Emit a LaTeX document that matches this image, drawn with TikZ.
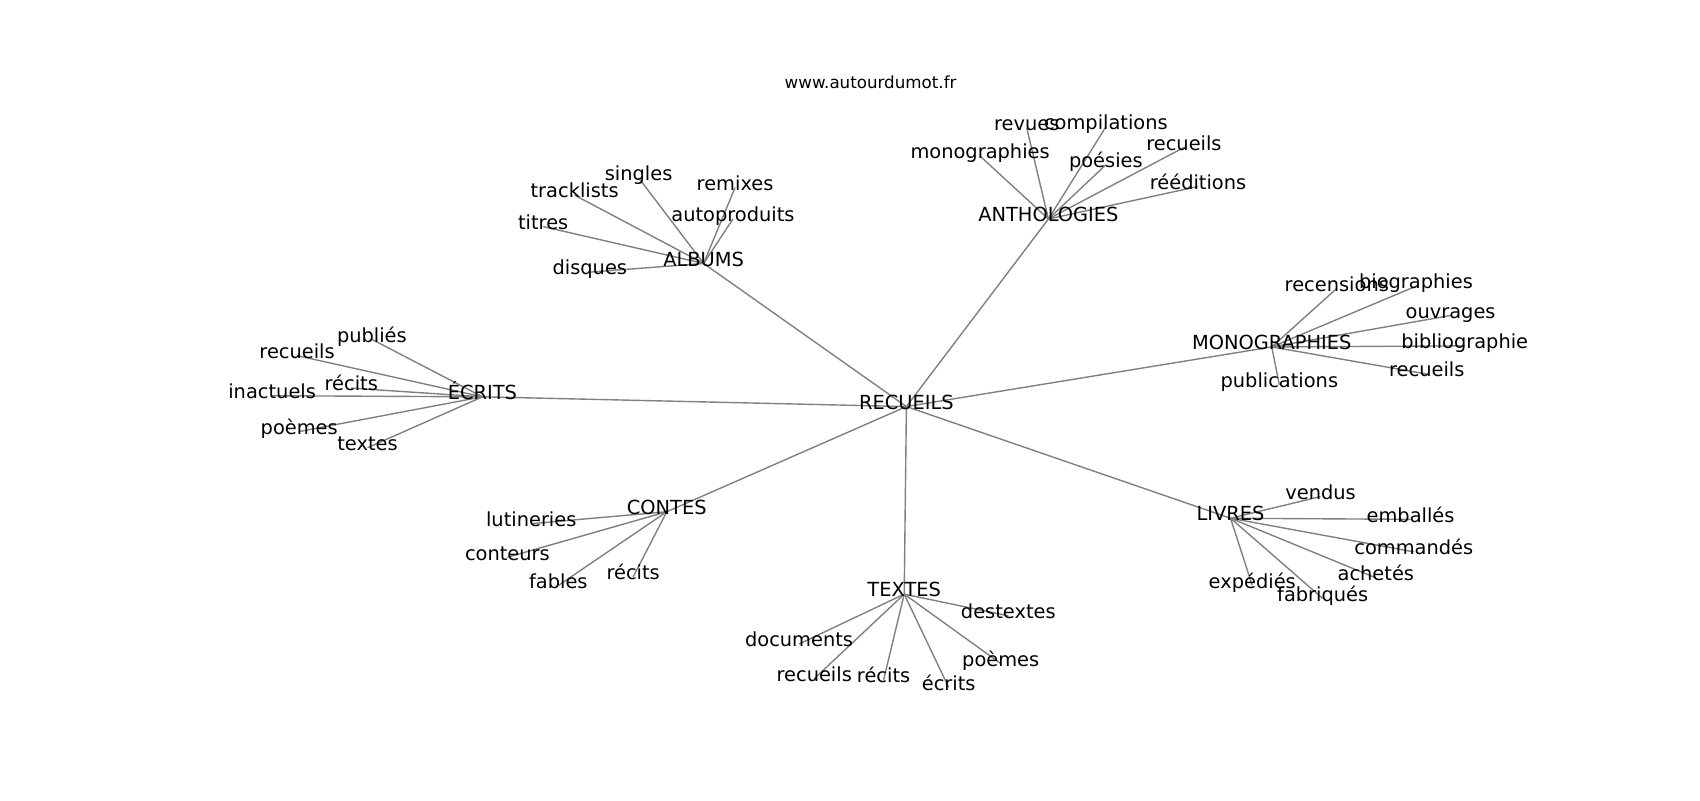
\documentclass[tikz,border=0pt]{standalone}
\usepackage{fontspec}
\setmainfont{DejaVu Sans}
\begin{document}
\begin{tikzpicture}[x=1.0842pt, y=-1.0842pt,
  lbl/.style={inner sep=0pt, anchor=center, font=\fontsize{19.4pt}{23pt}\selectfont, text height=0.76em, text depth=0.21em},
  ttl/.style={inner sep=0pt, anchor=center, font=\fontsize{16.7pt}{20pt}\selectfont, text height=0.76em, text depth=0.21em},
  edge/.style={draw=black!50, line width=1.39pt}]
\useasboundingbox (0,-3) rectangle (1568,735);
\fill[white] (0,-3) rectangle (1568,735);
% title
\node[ttl] (title) at (803,76) {www.autourdumot.fr};
% nodes (positions)
\path
 (836,372) coordinate (c0)
 (967,199) coordinate (a0)
 (947,115) coordinate (a1)
 (1020,114) coordinate (a2)
 (904,141) coordinate (a3)
 (1020,149) coordinate (a4)
 (1092,133) coordinate (a5)
 (1105,169) coordinate (a6)
 (649,240) coordinate (b0)
 (589,161) coordinate (b1)
 (678,170) coordinate (b2)
 (530,177) coordinate (b3)
 (676,199) coordinate (b4)
 (501,206) coordinate (b5)
 (544,248) coordinate (b6)
 (445,363) coordinate (e0)
 (343,310) coordinate (e1)
 (274,325) coordinate (e2)
 (324,355) coordinate (e3)
 (251,362) coordinate (e4)
 (276,395) coordinate (e5)
 (339,410) coordinate (e6)
 (1173,317) coordinate (m0)
 (1233,263) coordinate (m1)
 (1306,261) coordinate (m2)
 (1338,288) coordinate (m3)
 (1351,316) coordinate (m4)
 (1316,342) coordinate (m5)
 (1180,352) coordinate (m6)
 (615,469) coordinate (k0)
 (490,480) coordinate (k1)
 (468,511) coordinate (k2)
 (515,537) coordinate (k3)
 (584,529) coordinate (k4)
 (1135,475) coordinate (l0)
 (1218,455) coordinate (l1)
 (1301,476) coordinate (l2)
 (1304,506) coordinate (l3)
 (1269,530) coordinate (l4)
 (1155,537) coordinate (l5)
 (1220,549) coordinate (l6)
 (834,545) coordinate (t0)
 (930,565) coordinate (t1)
 (737,591) coordinate (t2)
 (923,609) coordinate (t3)
 (751,623) coordinate (t4)
 (815,624) coordinate (t5)
 (875,631) coordinate (t6);
% edges
\foreach \h in {a0,b0,e0,m0,k0,l0,t0} \draw[edge] (c0) -- (\h);
\foreach \i in {1,...,6} \draw[edge] (a0) -- (a\i);
\foreach \i in {1,...,6} \draw[edge] (b0) -- (b\i);
\foreach \i in {1,...,6} \draw[edge] (e0) -- (e\i);
\foreach \i in {1,...,6} \draw[edge] (m0) -- (m\i);
\foreach \i in {1,...,4} \draw[edge] (k0) -- (k\i);
\foreach \i in {1,...,6} \draw[edge] (l0) -- (l\i);
\foreach \i in {1,...,6} \draw[edge] (t0) -- (t\i);
% labels
\node[lbl] (nc0) at (c0) {RECUEILS};
\node[lbl] (na0) at (a0) {ANTHOLOGIES};
\node[lbl] (na1) at (a1) {revues};
\node[lbl] (na2) at (a2) {compilations};
\node[lbl] (na3) at (a3) {monographies};
\node[lbl] (na4) at (a4) {poésies};
\node[lbl] (na5) at (a5) {recueils};
\node[lbl] (na6) at (a6) {rééditions};
\node[lbl] (nb0) at (b0) {ALBUMS};
\node[lbl] (nb1) at (b1) {singles};
\node[lbl] (nb2) at (b2) {remixes};
\node[lbl] (nb3) at (b3) {tracklists};
\node[lbl] (nb4) at (b4) {autoproduits};
\node[lbl] (nb5) at (b5) {titres};
\node[lbl] (nb6) at (b6) {disques};
\node[lbl] (ne0) at (e0) {ÉCRITS};
\node[lbl] (ne1) at (e1) {publiés};
\node[lbl] (ne2) at (e2) {recueils};
\node[lbl] (ne3) at (e3) {récits};
\node[lbl] (ne4) at (e4) {inactuels};
\node[lbl] (ne5) at (e5) {poèmes};
\node[lbl] (ne6) at (e6) {textes};
\node[lbl] (nm0) at (m0) {MONOGRAPHIES};
\node[lbl] (nm1) at (m1) {recensions};
\node[lbl] (nm2) at (m2) {biographies};
\node[lbl] (nm3) at (m3) {ouvrages};
\node[lbl] (nm4) at (m4) {bibliographie};
\node[lbl] (nm5) at (m5) {recueils};
\node[lbl] (nm6) at (m6) {publications};
\node[lbl] (nk0) at (k0) {CONTES};
\node[lbl] (nk1) at (k1) {lutineries};
\node[lbl] (nk2) at (k2) {conteurs};
\node[lbl] (nk3) at (k3) {fables};
\node[lbl] (nk4) at (k4) {récits};
\node[lbl] (nl0) at (l0) {LIVRES};
\node[lbl] (nl1) at (l1) {vendus};
\node[lbl] (nl2) at (l2) {emballés};
\node[lbl] (nl3) at (l3) {commandés};
\node[lbl] (nl4) at (l4) {achetés};
\node[lbl] (nl5) at (l5) {expédiés};
\node[lbl] (nl6) at (l6) {fabriqués};
\node[lbl] (nt0) at (t0) {TEXTES};
\node[lbl] (nt1) at (t1) {destextes};
\node[lbl] (nt2) at (t2) {documents};
\node[lbl] (nt3) at (t3) {poèmes};
\node[lbl] (nt4) at (t4) {recueils};
\node[lbl] (nt5) at (t5) {récits};
\node[lbl] (nt6) at (t6) {écrits};
\end{tikzpicture}
\end{document}
